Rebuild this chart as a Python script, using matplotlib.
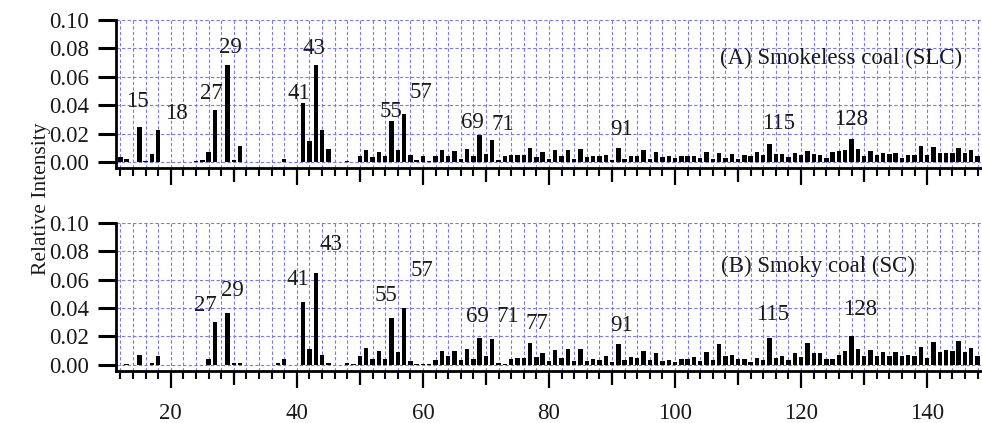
import matplotlib.pyplot as plt
import numpy as np
from matplotlib.ticker import MultipleLocator

plt.rcParams['font.family'] = ['Liberation Serif', 'DejaVu Serif']

# m/z axis, one bar per unit mass
mz = np.arange(12, 149)

# relative intensity, smokeless coal (SLC), m/z 12..148
slc = [
    0.0033, 0.0024, 0, 0.025, 0.0007, 0.0055, 0.0225, 0, 0, 0,
    0, 0, 0.0007, 0.0013, 0.0068, 0.0366, 0, 0.068, 0.0012, 0.0115,
    0, 0, 0, 0, 0, 0, 0.002, 0, 0, 0.0415,
    0.0148, 0.068, 0.0228, 0.0095, 0, 0, 0.001, 0.0003, 0.0046, 0.0088,
    0.0034, 0.0072, 0.0044, 0.029, 0.0087, 0.0338, 0.0049, 0.0015, 0.004, 0.0008,
    0.004, 0.0084, 0.0044, 0.008, 0.0022, 0.009, 0.0044, 0.0193, 0.0058, 0.0157,
    0.0015, 0.004, 0.005, 0.0048, 0.0048, 0.010, 0.0036, 0.007, 0.0018, 0.0086,
    0.0044, 0.0087, 0.0024, 0.009, 0.0038, 0.0045, 0.0043, 0.0048, 0.0012, 0.0097,
    0.0023, 0.0045, 0.004, 0.0082, 0.0024, 0.007, 0.0033, 0.004, 0.003, 0.0045,
    0.0045, 0.004, 0.003, 0.0074, 0.0024, 0.0064, 0.0026, 0.006, 0.0024, 0.0048,
    0.004, 0.0074, 0.0048, 0.0127, 0.0057, 0.0055, 0.0036, 0.0064, 0.0048, 0.0076,
    0.0055, 0.005, 0.0026, 0.0074, 0.008, 0.0083, 0.0165, 0.009, 0.0043, 0.0076,
    0.0048, 0.0064, 0.0055, 0.0067, 0.0029, 0.0052, 0.0052, 0.0115, 0.005, 0.0104,
    0.0062, 0.0062, 0.0064, 0.0097, 0.0062, 0.0087, 0.0043,
]

# relative intensity, smoky coal (SC), m/z 12..148
sc = [
    0, 0.0007, 0, 0.007, 0, 0.0014, 0.0063, 0, 0, 0,
    0, 0, 0, 0, 0.0037, 0.030, 0, 0.0363, 0.001, 0.0014,
    0, 0, 0, 0, 0, 0.0012, 0.004, 0, 0, 0.0445,
    0.011, 0.0644, 0.0066, 0.0012, 0, 0, 0.0015, 0.0005, 0.006, 0.0117,
    0.0043, 0.0094, 0.0042, 0.0327, 0.0092, 0.0398, 0.0023, 0.0005, 0.0005, 0.0005,
    0.0033, 0.0096, 0.0059, 0.0098, 0.0035, 0.0112, 0.0042, 0.0187, 0.006, 0.0178,
    0.0012, 0.0007, 0.0037, 0.0047, 0.0047, 0.0156, 0.0054, 0.0084, 0.0028, 0.0103,
    0.0049, 0.011, 0.0028, 0.0112, 0.0026, 0.004, 0.003, 0.006, 0.0021, 0.0146,
    0.0035, 0.0054, 0.0045, 0.0098, 0.003, 0.008, 0.0026, 0.0035, 0.002, 0.0042,
    0.0042, 0.0054, 0.0028, 0.0087, 0.0035, 0.0143, 0.0063, 0.0068, 0.0042, 0.0042,
    0.002, 0.0049, 0.003, 0.0187, 0.0049, 0.0063, 0.0035, 0.0082, 0.0054, 0.0152,
    0.008, 0.0082, 0.0042, 0.0042, 0.007, 0.0098, 0.0204, 0.011, 0.0059, 0.0105,
    0.0063, 0.0091, 0.0063, 0.0091, 0.0059, 0.007, 0.0063, 0.0122, 0.0049, 0.0162,
    0.0091, 0.0103, 0.0098, 0.0166, 0.0091, 0.012, 0.0059,
]

peaks_slc = [15, 18, 27, 29, 41, 43, 55, 57, 69, 71, 91, 115, 128]
peaks_sc = [27, 29, 41, 43, 55, 57, 69, 71, 77, 91, 115, 128]

# where each peak label sits (data coords)
pos_slc = {15: (14.7, 0.0425), 18: (20.9, 0.0343), 27: (26.4, 0.0484),
           29: (29.5, 0.0805), 41: (40.3, 0.0484), 43: (42.75, 0.080),
           55: (54.9, 0.0359), 57: (59.7, 0.0488), 69: (67.9, 0.0277),
           71: (72.65, 0.0265), 91: (91.5, 0.023), 115: (116.5, 0.0268),
           128: (128.0, 0.0303)}
pos_sc = {27: (25.5, 0.0415), 29: (29.8, 0.0522), 41: (40.2, 0.0597),
          43: (45.4, 0.0848), 55: (54.1, 0.0485), 57: (59.9, 0.0663),
          69: (68.7, 0.034), 71: (73.4, 0.034), 77: (78.0, 0.0293),
          91: (91.5, 0.0274), 115: (115.5, 0.0351), 128: (129.3, 0.0387)}

GRID = '#7878ff'
FS = 16.5
TXT = '#1a1a1a'


def draw(ax, vals, peaks, pos, title, title_xy, show_labels):
    ax.set_axisbelow(True)
    ax.bar(mz, vals, width=0.7, color='black', zorder=3)
    ax.set_xlim(11.3, 148.7)
    ax.set_ylim(-0.0042, 0.1)
    ax.set_yticks(np.arange(0, 0.101, 0.02))
    ax.yaxis.set_major_formatter(lambda v, p: f'{v:.2f}')
    ax.xaxis.set_major_locator(MultipleLocator(20))
    ax.xaxis.set_minor_locator(MultipleLocator(2))
    ax.grid(True, which='both', axis='x', color=GRID, lw=0.8, ls=(0, (3, 2)))
    ax.grid(True, which='major', axis='y', color=GRID, lw=0.8, ls=(0, (3, 2)))
    for s in ['top', 'right']:
        ax.spines[s].set_visible(False)
    for s in ['left', 'bottom']:
        ax.spines[s].set_linewidth(2)
    ax.tick_params(axis='y', direction='out', length=13, width=2.2,
                   labelsize=FS, pad=6.5, labelcolor=TXT)
    ax.tick_params(axis='x', which='major', direction='out', length=12.2,
                   width=1.6, labelsize=FS, pad=11, labelbottom=show_labels,
                   labelcolor=TXT)
    ax.tick_params(axis='x', which='minor', direction='out', length=6,
                   width=1.5)
    # medium ticks at 10, 30, 50 ...
    sec = ax.secondary_xaxis('bottom')
    sec.set_xticks(np.arange(10, 150, 20))
    sec.tick_params(length=10, width=1.6, labelbottom=False)
    sec.spines['bottom'].set_visible(False)

    for p in peaks:
        x, y = pos[p]
        ax.text(x, y, str(p), ha='center', va='center', fontsize=FS, color=TXT)
    ax.text(title_xy[0], title_xy[1], title, ha='center', va='center',
            fontsize=FS, color=TXT)


fig = plt.figure(figsize=(9.82, 4.23), dpi=100)
axA = fig.add_axes([0.1181, 0.6028, 0.8819, 0.3499])
axB = fig.add_axes([0.1181, 0.1236, 0.8819, 0.3499])

draw(axA, slc, peaks_slc, pos_slc, '(A) Smokeless coal (SLC)', (126.3, 0.073), False)
draw(axB, sc, peaks_sc, pos_sc, '(B) Smoky coal (SC)', (122.6, 0.069), True)

fig.text(0.042, 0.53, 'Relative Intensity', rotation=90, ha='center',
         va='center', fontsize=15.5, color=TXT)

fig.savefig('out.png', dpi=100)
